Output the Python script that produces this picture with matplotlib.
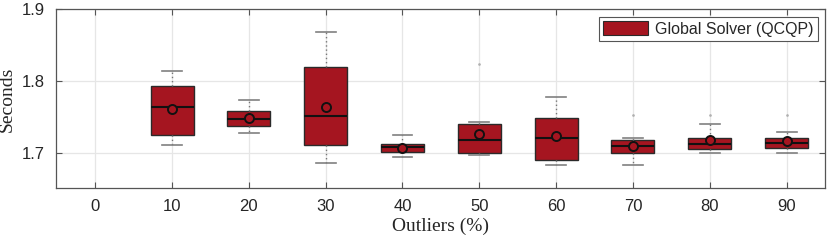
import matplotlib
matplotlib.use("Agg")
import matplotlib.pyplot as plt
from matplotlib.patches import Patch

outliers_pct = [10, 20, 30, 40, 50, 60, 70, 80, 90]
q1 = [1.725, 1.737, 1.711, 1.701, 1.700, 1.690, 1.699, 1.705, 1.707]
median = [1.763, 1.747, 1.751, 1.708, 1.717, 1.721, 1.709, 1.712, 1.713]
q3 = [1.793, 1.758, 1.820, 1.712, 1.740, 1.748, 1.718, 1.720, 1.720]
whislo = [1.711, 1.727, 1.686, 1.694, 1.696, 1.683, 1.683, 1.699, 1.700]
whishi = [1.814, 1.773, 1.868, 1.724, 1.743, 1.778, 1.720, 1.740, 1.729]
means = [1.761, 1.748, 1.763, 1.707, 1.726, 1.723, 1.709, 1.717, 1.716]
fliers = [[], [], [], [], [1.824], [], [1.752], [1.752], [1.752]]
xticks = [0, 10, 20, 30, 40, 50, 60, 70, 80, 90]
yticks = [1.7, 1.8, 1.9]

box_color = "#A51520"
text_color = "#262626"

fig = plt.figure(figsize=(8.30, 2.43), dpi=100)
ax = fig.add_axes([0.0675, 0.225, 0.9265, 0.736])

stats = []
for i in range(len(outliers_pct)):
    stats.append(dict(q1=q1[i], med=median[i], q3=q3[i], whislo=whislo[i],
                      whishi=whishi[i], mean=means[i], fliers=fliers[i]))

ax.bxp(stats, positions=outliers_pct, widths=5.6, patch_artist=True,
       showmeans=True, showfliers=True, capwidths=2.6,
       boxprops=dict(facecolor=box_color, edgecolor="#2a2a2a", linewidth=1.0),
       medianprops=dict(color="#111111", linewidth=1.5),
       whiskerprops=dict(color="#777777", linestyle=(0, (1, 2)), linewidth=1.0),
       capprops=dict(color="#808080", linewidth=1.2),
       meanprops=dict(marker="o", markerfacecolor=box_color, markeredgecolor="#111111",
                      markersize=6.5, markeredgewidth=1.4),
       flierprops=dict(marker=".", markersize=1.8, markerfacecolor="#b0b0b0",
                       markeredgecolor="#b0b0b0"),
       zorder=3)

ax.set_xlim(-5.1, 95.0)
ax.set_ylim(1.65, 1.9)
ax.set_xticks(xticks)
ax.set_xticklabels([str(v) for v in xticks])
ax.set_yticks(yticks)
ax.set_yticklabels(["%.1f" % v for v in yticks])
ax.grid(True, color="#e6e6e6", linewidth=0.9, zorder=0)
ax.set_axisbelow(True)

ax.tick_params(direction="in", length=4, width=0.8, colors="#555555",
               labelcolor=text_color, labelsize=12, top=True, right=True, pad=8)
for lab in ax.get_xticklabels() + ax.get_yticklabels():
    lab.set_family("Liberation Sans")
for s in ax.spines.values():
    s.set_color("#555555")
    s.set_linewidth(0.9)

ax.set_xlabel("Outliers (%)", family="Liberation Serif", fontsize=14, color=text_color, labelpad=2)
ax.set_ylabel("Seconds", family="Liberation Serif", fontsize=14, color=text_color, labelpad=4)

handle = Patch(facecolor=box_color, edgecolor="#2a2a2a", linewidth=0.8)
leg = ax.legend([handle], ["Global Solver (QCQP)"], loc="upper right",
                prop=dict(family="Liberation Sans", size=11.5), frameon=True,
                fancybox=False, edgecolor="#555555", framealpha=1,
                handlelength=2.8, handleheight=0.9, borderpad=0.3,
                handletextpad=0.4, borderaxespad=0.45)
leg.get_frame().set_linewidth(0.8)
for t in leg.get_texts():
    t.set_color(text_color)

fig.savefig("out.png", dpi=100)
